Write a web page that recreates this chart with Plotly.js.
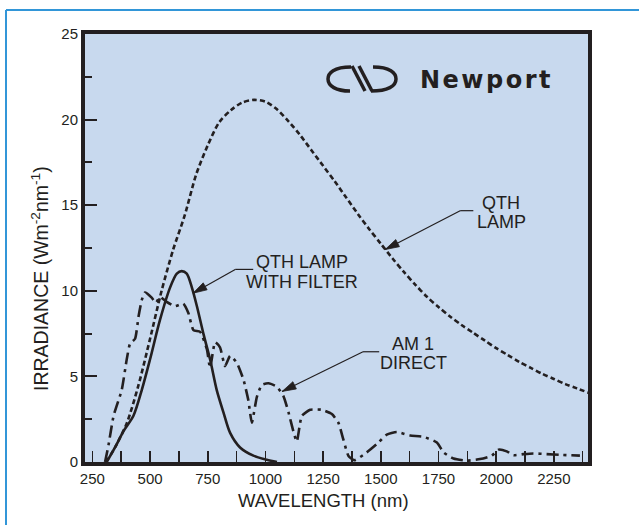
<!DOCTYPE html>
<html>
<head>
<meta charset="utf-8">
<script src="https://cdn.plot.ly/plotly-3.0.1.min.js"></script>
<style>
  html, body { margin: 0; padding: 0; background: #ffffff; }
  #chart { width: 639px; height: 525px; }
</style>
</head>
<body>
<div id="chart"></div>
<script>
// ---- Data ----
const wavelengthQTH = [310, 350, 400, 450, 500, 550, 600, 650, 700, 750, 800, 850, 900, 950, 1000, 1050, 1100, 1150, 1200, 1250, 1300, 1350, 1400, 1450, 1500, 1550, 1600, 1650, 1700, 1750, 1800, 1850, 1900, 1950, 2000, 2050, 2100, 2150, 2200, 2250, 2300, 2350, 2400];
const irradianceQTH = [0, 0.9, 2.3, 4.5, 7.2, 10.0, 12.4, 14.4, 16.8, 18.5, 19.85, 20.55, 21.0, 21.15, 21.05, 20.6, 19.9, 19.1, 18.2, 17.3, 16.4, 15.45, 14.5, 13.6, 12.75, 11.9, 11.1, 10.35, 9.65, 9.05, 8.5, 8.0, 7.55, 7.1, 6.65, 6.25, 5.85, 5.5, 5.15, 4.85, 4.55, 4.3, 4.05];

const wavelengthFilter = [312, 350, 385, 428, 464, 500, 543, 587, 616, 637, 659, 681, 703, 731, 760, 789, 818, 847, 890, 948, 1006, 1050];
const irradianceFilter = [0, 0.9, 1.8, 2.7, 4.2, 6.0, 8.3, 10.2, 11.0, 11.15, 11.0, 10.2, 9.1, 7.5, 6.0, 4.2, 2.9, 1.7, 0.85, 0.37, 0.13, 0];

const wavelengthAM1 = [305, 320, 342, 377, 399, 413, 435, 450, 464, 478, 507, 525, 543, 572, 608, 644, 666, 688, 717, 746, 760, 782, 803, 825, 847, 876, 905, 926, 941, 963, 984, 1013, 1049, 1078, 1100, 1121, 1136, 1158, 1194, 1244, 1288, 1316, 1338, 1360, 1385, 1439, 1483, 1526, 1569, 1627, 1685, 1743, 1772, 1815, 1873, 1930, 1981, 2010, 2046, 2075, 2118, 2161, 2219, 2277, 2363];
const irradianceAM1 = [0, 1.0, 2.7, 4.2, 6.0, 6.9, 7.2, 8.5, 9.45, 9.9, 9.6, 9.3, 9.65, 9.35, 9.1, 9.25, 8.7, 7.7, 7.6, 6.6, 5.5, 7.0, 6.7, 5.6, 6.2, 5.8, 4.8, 3.6, 2.3, 3.8, 4.5, 4.6, 4.4, 3.85, 2.9, 1.8, 1.2, 2.7, 3.05, 3.05, 2.8, 2.3, 1.3, 0.35, 0.1, 0.56, 1.05, 1.6, 1.75, 1.55, 1.47, 1.14, 0.56, 0.2, 0.08, 0.17, 0.37, 0.72, 0.62, 0.4, 0.46, 0.5, 0.46, 0.42, 0.37];

const xTickStart = 250, xTickStep = 250, xMinorStep = 125;
const yTickStep = 5, yMinorStep = 2.5;

// ---- Styling ----
const ink = '#231f20';
const fontFam = '"Liberation Sans", Arial, Helvetica, sans-serif';
const xRange = [218, 2398], yRange = [0, 25];

const traces = [
  { x: wavelengthQTH, y: irradianceQTH, name: 'QTH LAMP', type: 'scatter', mode: 'lines',
    line: { color: ink, width: 2.6, dash: '5px,3px', shape: 'spline', smoothing: 0.8 }, hoverinfo: 'skip' },
  { x: wavelengthFilter, y: irradianceFilter, name: 'QTH LAMP WITH FILTER', type: 'scatter', mode: 'lines',
    line: { color: ink, width: 2.6, shape: 'spline', smoothing: 0.8 }, hoverinfo: 'skip' },
  { x: wavelengthAM1, y: irradianceAM1, name: 'AM 1 DIRECT', type: 'scatter', mode: 'lines',
    line: { color: ink, width: 2.6, dash: '12px,5px,3px,5px', shape: 'spline', smoothing: 0.5 }, hoverinfo: 'skip' }
];

// plot area in pixels: x 85..588, y 34..462
const L = 85, R = 588, T = 34, B = 462;
const px = v => (v - L) / (R - L);
const py = v => (B - v) / (B - T);
// pixel scale of the data axes (used only to orient arrowheads)
const sx = (R - L) / (xRange[1] - xRange[0]);
const sy = (B - T) / (yRange[1] - yRange[0]);

function label(text, cx, cy, size) {
  return { xref: 'paper', yref: 'paper', x: px(cx), y: py(cy), text: text, showarrow: false,
    xanchor: 'center', yanchor: 'middle', font: { family: fontFam, size: size || 18, color: ink } };
}
// leader: horizontal stub + diagonal line + filled arrowhead at the tip
function leader(tipX, tipY, tailX, tailY, stubEndX) {
  const dx = (tailX - tipX) * sx, dy = (tailY - tipY) * sy; // y up
  const len = Math.hypot(dx, dy), ux = dx / len, uy = dy / len;
  const hl = 14, hw = 4;
  const bx = ux * hl, by = uy * hl;
  const p1 = [bx - uy * hw, by + ux * hw], p2 = [bx + uy * hw, by - ux * hw];
  return [
    { type: 'line', xref: 'x', yref: 'y', x0: tailX, y0: tailY, x1: stubEndX, y1: tailY, line: { color: ink, width: 1.2 } },
    { type: 'line', xref: 'x', yref: 'y', x0: tailX, y0: tailY, x1: tipX, y1: tipY, line: { color: ink, width: 1.2 } },
    { type: 'path', xref: 'x', yref: 'y', xsizemode: 'pixel', ysizemode: 'pixel', xanchor: tipX, yanchor: tipY,
      path: 'M 0 0 L ' + p1[0].toFixed(2) + ' ' + p1[1].toFixed(2) + ' L ' + p2[0].toFixed(2) + ' ' + p2[1].toFixed(2) + ' Z',
      fillcolor: ink, line: { color: ink, width: 0.8 } }
  ];
}

const annotations = [
  label('QTH LAMP', 302, 262),
  label('WITH FILTER', 302, 282),
  label('QTH', 501, 203),
  label('LAMP', 501, 222),
  label('AM 1', 413, 344),
  label('DIRECT', 413, 363),
  label('WAVELENGTH (nm)', 323, 500, 18.5),
  Object.assign(label('IRRADIANCE (Wm<sup>-2</sup>nm<sup>-1</sup>)', 40, 279, 19.5), { textangle: -90 }),
  { xref: 'paper', yref: 'paper', x: px(486), y: py(80), text: '<span style="letter-spacing:2.5px">Newport</span>',
    showarrow: false, xanchor: 'center', yanchor: 'middle',
    font: { family: '"DejaVu Sans", sans-serif', size: 24, weight: 'bold', color: ink } }
];

// logo mark (pixel offsets around its centre, y up)
const logoAnchor = { xref: 'paper', yref: 'paper', xsizemode: 'pixel', ysizemode: 'pixel', xanchor: px(362), yanchor: py(79) };
const logoShapes = [
  'M -11 12 C -28 12 -34 6 -34 0 C -34 -7 -26 -12 -12 -12',
  'M 11 12 C 28 12 34 6 34 0 C 34 -7 26 -12 9 -12',
  'M -10 13 L 3 -12',
  'M -3 13 L 10 -12'
].map(p => Object.assign({ type: 'path', path: p, line: { color: ink, width: 3.5 }, fillcolor: 'rgba(0,0,0,0)' }, logoAnchor));

const shapes = [].concat(
  leader(686, 9.86, 869, 11.25, 947),
  leader(1519, 12.41, 1844, 14.68, 1901),
  leader(1072, 4.12, 1423, 6.44, 1493),
  [
    // outer blue frame
    { type: 'line', xref: 'paper', yref: 'paper', x0: px(6), x1: px(6), y0: py(10), y1: py(530), line: { color: '#3296d8', width: 2 } },
    { type: 'line', xref: 'paper', yref: 'paper', x0: px(6), x1: px(645), y0: py(10), y1: py(10), line: { color: '#3296d8', width: 2 } }
  ],
  logoShapes
);

const layout = {
  width: 639, height: 525,
  margin: { l: L, r: 639 - R, t: T, b: 525 - B, pad: 0 },
  paper_bgcolor: '#ffffff', plot_bgcolor: '#c8d9ee',
  showlegend: false,
  font: { family: fontFam, color: ink, size: 15 },
  xaxis: {
    range: xRange, tick0: xTickStart, dtick: xTickStep,
    ticks: 'inside', ticklen: 11, tickwidth: 1.5, tickcolor: ink,
    showline: true, linewidth: 4, linecolor: ink, mirror: true,
    showgrid: false, zeroline: false, tickfont: { size: 15, color: ink },
    minor: { tick0: xTickStart - xMinorStep, dtick: xMinorStep, ticks: 'inside', ticklen: 11, tickwidth: 1.5, tickcolor: ink, showgrid: false }
  },
  yaxis: {
    range: yRange, tick0: 0, dtick: yTickStep,
    ticks: 'inside', ticklen: 12, tickwidth: 2, tickcolor: ink,
    showline: true, linewidth: 4, linecolor: ink, mirror: true,
    showgrid: false, zeroline: false, tickfont: { size: 15, color: ink },
    minor: { dtick: yMinorStep, ticks: 'inside', ticklen: 7, tickwidth: 2, tickcolor: ink, showgrid: false }
  },
  annotations: annotations,
  shapes: shapes
};

Plotly.newPlot('chart', traces, layout, { staticPlot: true, displayModeBar: false });
</script>
</body>
</html>
